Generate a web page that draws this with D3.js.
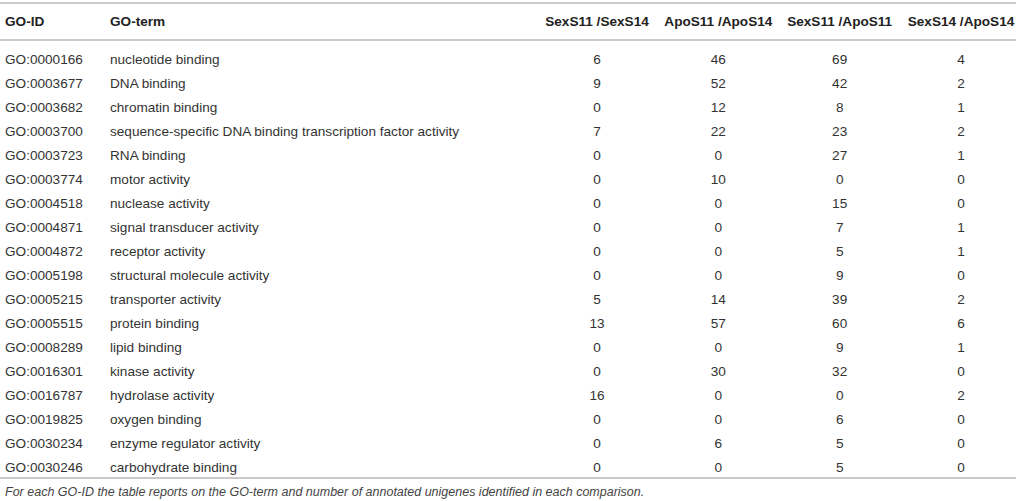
<!DOCTYPE html>
<html lang="en">
<head>
<meta charset="UTF-8">
<title>GO table</title>
<script src="https://cdn.jsdelivr.net/npm/d3@7"></script>
<style>
  body { margin:0; background:#fff; }
  svg text { font-family: "Liberation Sans", Arial, sans-serif; fill:#333; }
  .head { font-weight:bold; font-size:13.6px; fill:#222; }
  .cell { font-size:13.6px; }
  .note { font-size:12.5px; font-style:italic; fill:#444; }
  .rule { stroke:#b8b8b8; stroke-width:1.5; }
</style>
</head>
<body>
<div id="chart"></div>
<script>
// table data
var headers = ["GO-ID", "GO-term", "SexS11 /SexS14", "ApoS11 /ApoS14", "SexS11 /ApoS11", "SexS14 /ApoS14"];
var goIds = ["GO:0000166","GO:0003677","GO:0003682","GO:0003700","GO:0003723","GO:0003774","GO:0004518","GO:0004871","GO:0004872","GO:0005198","GO:0005215","GO:0005515","GO:0008289","GO:0016301","GO:0016787","GO:0019825","GO:0030234","GO:0030246"];
var goTerms = ["nucleotide binding","DNA binding","chromatin binding","sequence-specific DNA binding transcription factor activity","RNA binding","motor activity","nuclease activity","signal transducer activity","receptor activity","structural molecule activity","transporter activity","protein binding","lipid binding","kinase activity","hydrolase activity","oxygen binding","enzyme regulator activity","carbohydrate binding"];
var sexS11_sexS14 = [6,9,0,7,0,0,0,0,0,0,5,13,0,0,16,0,0,0];
var apoS11_apoS14 = [46,52,12,22,0,10,0,0,0,0,14,57,0,30,0,0,6,0];
var sexS11_apoS11 = [69,42,8,23,27,0,15,7,5,9,39,60,9,32,0,6,5,5];
var sexS14_apoS14 = [4,2,1,2,1,0,0,1,1,0,2,6,1,0,2,0,0,0];
var caption = "For each GO-ID the table reports on the GO-term and number of annotated unigenes identified in each comparison.";

var W = 1016, H = 501;
var svg = d3.select("#chart").append("svg").attr("width", W).attr("height", H);

var numCols = [sexS11_sexS14, apoS11_apoS14, sexS11_apoS11, sexS14_apoS14];

// column centres for the count columns
var x = d3.scalePoint().domain(headers.slice(2)).range([597, 961]);
// rows
var y = d3.scaleBand().domain(goIds).range([47, 47 + 24 * goIds.length]);

// rules
svg.append("line").attr("class","rule").attr("x1",0).attr("x2",W).attr("y1",3).attr("y2",3);
svg.append("line").attr("class","rule").attr("x1",0).attr("x2",W).attr("y1",40).attr("y2",40);
svg.append("line").attr("class","rule").attr("x1",0).attr("x2",W).attr("y1",478).attr("y2",478);

// header
var hy = 21;
svg.append("text").attr("class","head").attr("x",5).attr("y",hy).attr("dy","0.35em").text(headers[0]);
svg.append("text").attr("class","head").attr("x",110).attr("y",hy).attr("dy","0.35em").text(headers[1]);
svg.selectAll(".hnum").data(headers.slice(2)).enter().append("text")
  .attr("class","head hnum")
  .attr("x", d => x(d)).attr("y", hy).attr("dy","0.35em")
  .attr("text-anchor","middle")
  .text(d => d);

// body rows
var rows = svg.selectAll(".row").data(goIds).enter().append("g")
  .attr("class","row")
  .attr("transform", d => "translate(0," + (y(d) + y.bandwidth() / 2) + ")");

rows.append("text").attr("class","cell").attr("x",5).attr("dy","0.35em").text(d => d);
rows.append("text").attr("class","cell").attr("x",110).attr("dy","0.35em").text((d, i) => goTerms[i]);

numCols.forEach(function(col, c) {
  rows.append("text").attr("class","cell")
    .attr("x", x(headers[c + 2]))
    .attr("dy","0.35em")
    .attr("text-anchor","middle")
    .text((d, i) => col[i]);
});

svg.append("text").attr("class","note").attr("x",5).attr("y",492).attr("dy","0.35em").text(caption);
</script>
</body>
</html>
